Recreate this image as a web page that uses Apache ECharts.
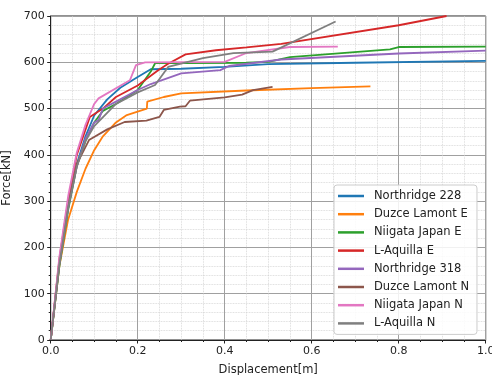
<!DOCTYPE html>
<html>
<head>
<meta charset="utf-8">
<script src="https://cdn.jsdelivr.net/npm/echarts@6/dist/echarts.min.js"></script>
<style>
html,body{margin:0;padding:0;background:#fff;}
#c{width:492px;height:375px;}
</style>
</head>
<body>
<div id="c"></div>
<script>
const xTicks = [0, 0.2, 0.4, 0.6, 0.8, 1.0];
const yTicks = [0, 100, 200, 300, 400, 500, 600, 700];
const seriesNames = ["Northridge 228", "Duzce Lamont E", "Niigata Japan E", "L-Aquilla E", "Northridge 318", "Duzce Lamont N", "Niigata Japan N", "L-Aquilla N"];
const colors = ["#1f77b4", "#ff7f0e", "#2ca02c", "#d62728", "#9467bd", "#8c564b", "#e377c2", "#7f7f7f"];

const northridge228 = [[0,0],[0.02,165],[0.04,285],[0.06,380],[0.08,440],[0.1,485],[0.13,520],[0.16,545],[0.2,568],[0.23,585],[0.3,586],[0.4,590],[0.5,596],[0.7,599],[1.0,603]];
const duzceE = [[0,0],[0.02,160],[0.04,260],[0.06,320],[0.08,370],[0.1,410],[0.12,440],[0.15,470],[0.175,486],[0.221,500],[0.222,515],[0.26,525],[0.3,533],[0.45,539],[0.6,544],[0.735,548]];
const niigataE = [[0,0],[0.02,160],[0.04,280],[0.06,375],[0.08,430],[0.1,470],[0.12,495],[0.15,510],[0.2,540],[0.23,580],[0.24,598],[0.3,598],[0.45,599],[0.5,601],[0.55,611],[0.78,628],[0.8,633],[1.0,634]];
const aquillaE = [[0,0],[0.02,175],[0.04,300],[0.06,400],[0.09,482],[0.12,500],[0.15,525],[0.2,550],[0.247,583],[0.27,597],[0.31,617],[0.38,626],[0.45,632],[0.53,640],[0.8,680],[0.91,700]];
const northridge318 = [[0,0],[0.02,165],[0.04,285],[0.06,375],[0.08,435],[0.1,470],[0.11,475],[0.12,500],[0.15,515],[0.2,540],[0.23,553],[0.3,576],[0.39,583],[0.41,592],[0.53,606],[0.8,619],[1.0,625]];
const duzceN = [[0,0],[0.02,170],[0.04,290],[0.06,380],[0.088,432],[0.13,455],[0.17,471],[0.22,474],[0.25,482],[0.26,497],[0.297,504],[0.31,505],[0.32,517],[0.4,524],[0.44,530],[0.465,540],[0.51,547]];
const niigataN = [[0,0],[0.02,180],[0.04,310],[0.06,405],[0.08,465],[0.1,510],[0.11,522],[0.182,561],[0.196,594],[0.217,600],[0.4,601],[0.45,620],[0.55,633],[0.66,634]];
const aquillaN = [[0,0],[0.02,165],[0.04,285],[0.06,375],[0.08,430],[0.1,462],[0.15,510],[0.2,535],[0.24,551],[0.27,590],[0.35,609],[0.42,620],[0.51,623],[0.655,688]];

const allData = [northridge228, duzceE, niigataE, aquillaE, northridge318, duzceN, niigataN, aquillaN];

const chart = echarts.init(document.getElementById('c'), null, {renderer: 'canvas'});
const font = 'DejaVu Sans';
chart.setOption({
  animation: false,
  color: colors,
  grid: {left: 50.7, right: 6.3, top: 16, bottom: 35, show: true, borderColor: '#222', borderWidth: 1, backgroundColor: 'transparent', containLabel: false, outerBoundsMode: 'none'},
  xAxis: {
    type: 'value', min: xTicks[0], max: xTicks[xTicks.length-1], interval: 0.2,
    name: 'Displacement[m]', nameLocation: 'middle', nameGap: 24,
    nameTextStyle: {fontFamily: font, fontSize: 11.5, color: '#222'},
    axisLine: {show: true, lineStyle: {color: '#222', width: 1}},
    axisTick: {show: true, length: 3.5, lineStyle: {color: '#222'}},
    minorTick: {show: true, splitNumber: 4, length: 2, lineStyle: {color: '#222'}},
    axisLabel: {fontFamily: font, fontSize: 11, color: '#222', margin: 6, formatter: v => v.toFixed(1)},
    splitLine: {show: true, lineStyle: {color: '#a0a0a0', width: 1}},
    minorSplitLine: {show: true, lineStyle: {color: '#d0d0d0', width: 0.8, type: 'dotted'}}
  },
  yAxis: {
    type: 'value', min: yTicks[0], max: yTicks[yTicks.length-1], interval: 100,
    name: 'Force[kN]', nameLocation: 'middle', nameGap: 34,
    nameTextStyle: {fontFamily: font, fontSize: 11.5, color: '#222'},
    axisLine: {show: true, lineStyle: {color: '#222', width: 1}},
    axisTick: {show: true, length: 3.5, lineStyle: {color: '#222'}},
    minorTick: {show: true, splitNumber: 5, length: 2, lineStyle: {color: '#222'}},
    axisLabel: {fontFamily: font, fontSize: 11, color: '#222', margin: 6},
    splitLine: {show: true, lineStyle: {color: '#a0a0a0', width: 1}},
    minorSplitLine: {show: true, lineStyle: {color: '#d0d0d0', width: 0.8, type: 'dotted'}}
  },
  legend: {
    orient: 'vertical', left: 334, top: 185,
    data: seriesNames,
    icon: 'rect', itemWidth: 26, itemHeight: 2.5, itemGap: 4.2,
    padding: [4, 8, 4, 4],
    backgroundColor: 'rgba(255,255,255,0.85)', borderColor: '#cccccc', borderWidth: 1, borderRadius: 3,
    textStyle: {fontFamily: font, fontSize: 11.5, color: '#222', padding: [0, 0, 0, 5], lineHeight: 14}
  },
  series: seriesNames.map((n, i) => ({
    name: n, type: 'line', data: allData[i], showSymbol: false, symbol: 'none',
    lineStyle: {width: 1.8, color: colors[i]}, itemStyle: {color: colors[i]}, clip: true
  }))
});
</script>
</body>
</html>
